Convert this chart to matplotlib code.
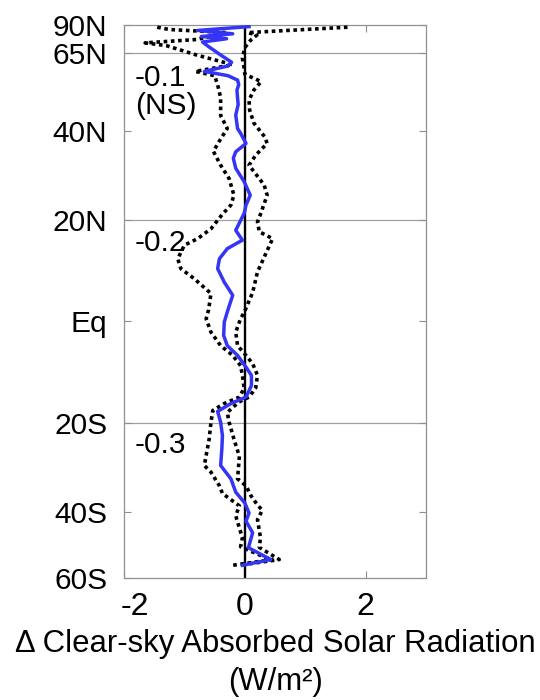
import numpy as np
import matplotlib
matplotlib.use("Agg")
import matplotlib.pyplot as plt
import matplotlib.transforms as mtransforms

plt.rcParams['font.family'] = ['Liberation Sans', 'DejaVu Sans']
plt.rcParams['axes.unicode_minus'] = False

# Latitude tick positions / labels
tick_lats = [90, 65, 40, 20, 0, -20, -40, -60]
tick_labels = ["90N", "65N", "40N", "20N", "Eq", "20S", "40S", "60S"]
divider_lats = [65, 20, -20]
x_ticks = [-2, 0, 2]
x_tick_labels = ["-2", "0", "2"]

# Mean change (blue)
mean_lat = [84, 79, 76, 74, 72.5, 70.5, 68, 64, 61, 59.5, 57.5, 56, 54.5, 53, 51.3, 49, 47,
            44.1, 40.6, 39.4, 36.9, 34.9, 33.4, 31.1, 28.1, 25.2, 23.1, 21.4, 17.9, 15.9, 14.2,
            12.2, 10.25, 7.6, 5.05, 2.2, -0.15, -2.74, -4.7, -6.6, -8.9, -10.5, -12.5, -14.8,
            -16.1, -17.7, -19.9, -22.7, -25.5, -29.1, -32.1, -35.2, -37.8, -40.3, -42.4, -45.5,
            -49.8, -53.5, -55.4]
mean_val = [0.07, -0.78, -0.2, -0.72, -0.3, -0.7, -0.6, -0.4, -0.22, -0.28, -0.67, -0.28, -0.12,
            -0.1, -0.13, -0.12, -0.11, -0.15, -0.12, -0.07, 0.02, -0.15, -0.19, -0.15, -0.01, 0.09,
            0.02, -0.01, -0.15, -0.04, -0.29, -0.42, -0.45, -0.34, -0.2, -0.28, -0.34, -0.35, -0.29,
            -0.12, 0.02, 0.11, 0.11, 0.02, -0.23, -0.45, -0.4, -0.37, -0.38, -0.4, -0.23, -0.15,
            0.0, 0.07, 0.02, 0.13, 0.06, 0.43, -0.04]

# Lower bound (left dotted)
low_lat = [83, 80, 77, 72, 70, 68.5, 64, 60, 57.5, 56, 53, 49, 44, 40.6, 37.5, 35, 31.8, 28.8,
           25.2, 23.1, 21.2, 18.2, 16.2, 14.9, 12.2, 10.25, 8.3, 5.4, 2.2, 0.5, -2.1, -4.7, -6.6,
           -8.6, -10.5, -13, -14.8, -16.1, -17.5, -19.9, -23.4, -29.1, -30.6, -33.7, -35.5, -38.5,
           -41, -44.2, -46.9, -49.5, -52.5, -53.5, -55.4]
low_val = [-1.45, -1.25, -0.3, -0.8, -1.65, -1.3, -0.8, -0.2, -0.82, -0.5, -0.45, -0.4, -0.4,
           -0.29, -0.42, -0.52, -0.4, -0.26, -0.18, -0.23, -0.37, -0.56, -0.78, -1.0, -1.11, -1.06,
           -0.84, -0.56, -0.6, -0.64, -0.56, -0.4, -0.2, -0.07, -0.04, -0.01, -0.09, -0.34, -0.53,
           -0.56, -0.59, -0.67, -0.56, -0.42, -0.37, -0.09, -0.15, -0.09, -0.04, -0.07, 0.3, 0.45,
           -0.2]

# Upper bound (right dotted)
up_lat = [83, 77, 75, 71.7, 67.5, 62.6, 58.6, 56.5, 54, 51.3, 48.3, 45.5, 42, 38.5, 36.9, 34.1,
          31.8, 27.4, 25.2, 21.2, 19.6, 17.6, 16.2, 9.6, 5.6, 2.0, 0.5, -2.1, -4.7, -6.6, -8.2,
          -10.5, -13, -14.8, -15.8, -17.9, -19.9, -23.4, -27.1, -32.1, -33.7, -36, -38.3, -39.6,
          -42, -46.9, -49.7, -53.5, -55.4]
up_val = [1.7, 0.05, 0.2, 0.1, 0.0, -0.04, -0.01, 0.0, 0.27, 0.15, 0.07, 0.08, 0.15, 0.33, 0.37,
          0.18, 0.07, 0.32, 0.37, 0.26, 0.21, 0.24, 0.46, 0.21, 0.13, 0.0, -0.07, -0.15, -0.12, 0.02,
          0.13, 0.21, 0.18, 0.07, -0.1, -0.29, -0.26, -0.18, -0.09, -0.12, 0.02, 0.1, 0.21, 0.29,
          0.21, 0.26, 0.24, 0.57, -0.1]

# Regional mean annotations: (text, axes-fraction y)
annotations = [("-0.1", 0.905), ("(NS)", 0.853), ("-0.2", 0.606), ("-0.3", 0.2405)]


def s(lat):
    return np.sin(np.deg2rad(np.asarray(lat, dtype=float)))


fig = plt.figure(figsize=(5.4, 7.0), dpi=100)
ax = fig.add_axes([124 / 540, 1 - 578 / 700, 302 / 540, 553 / 700])

for d in divider_lats:
    ax.axhline(s(d), color='#a0a0a0', lw=0.9, zorder=1)
ax.axvline(0, color='black', lw=1.7, zorder=2)

dot = (0, (1, 1.0))
ax.plot(low_val, s(low_lat), color='black', lw=2.6, linestyle=dot, zorder=3)
ax.plot(up_val, s(up_lat), color='black', lw=2.6, linestyle=dot, zorder=3)
ax.plot(mean_val, s(mean_lat), color='#3535f5', lw=2.5, zorder=4)

ax.set_xlim(-2, 3)
ax.set_ylim(s(-60), 1)
ax.set_xticks(x_ticks)
ax.set_xticklabels(x_tick_labels)
ax.set_yticks(s(tick_lats))
ax.set_yticklabels(tick_labels)

ax.tick_params(axis='both', direction='in', length=5, width=0.8, color='#909090',
               top=True, right=True)
ax.tick_params(axis='y', pad=12, labelsize=21.5)
ax.tick_params(axis='x', pad=10, labelsize=23)
for sp in ax.spines.values():
    sp.set_color('#909090')
    sp.set_linewidth(0.9)

# shift the "-2" label right (it sits inside the axis edge in the reference)
lbl = ax.get_xticklabels()[0]
lbl.set_transform(lbl.get_transform() + mtransforms.ScaledTranslation(11 / 100, 0, fig.dpi_scale_trans))

ax.set_xlabel("\u0394 Clear-sky Absorbed Solar Radiation\n(W/m\u00b2)", fontsize=22.4,
              linespacing=1.35, labelpad=5)

for txt, yf in annotations:
    ax.text(0.036, yf, txt, transform=ax.transAxes, ha='left', va='center', fontsize=21.5)

fig.savefig("out.png", dpi=100)
